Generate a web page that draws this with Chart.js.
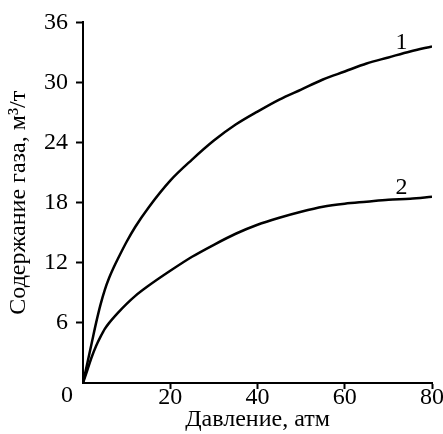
<!DOCTYPE html>
<html>
<head>
<meta charset="utf-8">
<script src="https://cdn.jsdelivr.net/npm/chart.js@4/dist/chart.umd.min.js"></script>
<style>
  html, body { margin: 0; padding: 0; background: #fff; }
  #wrap { width: 443px; height: 434px; }
</style>
</head>
<body>
<div id="wrap"><canvas id="gasChart" width="443" height="434"></canvas></div>
<script>
// Давление, атм
const pressure1 = [0, 1, 2, 3, 4, 5, 6, 7, 8, 10, 12, 15, 20, 25, 30, 35, 40, 45, 50, 55, 60, 65, 70, 75, 80];
// Кривая 1, м3/т
const gas1 = [0, 2.0, 4.0, 6.0, 7.8, 9.3, 10.5, 11.5, 12.4, 14.1, 15.6, 17.5, 20.2, 22.3, 24.2, 25.8, 27.1, 28.3, 29.3, 30.3, 31.1, 31.9, 32.5, 33.1, 33.6];

const pressure2 = [0, 1, 2, 3, 4, 5, 6, 8, 10, 12, 15, 20, 25, 30, 35, 40, 45, 50, 55, 60, 65, 70, 75, 80];
// Кривая 2, м3/т
const gas2 = [0, 1.3, 2.6, 3.7, 4.6, 5.4, 6.0, 7.0, 7.9, 8.7, 9.7, 11.2, 12.6, 13.8, 14.9, 15.8, 16.5, 17.1, 17.6, 17.9, 18.1, 18.3, 18.4, 18.6];

const xTicks = [0, 20, 40, 60, 80];
const yTicks = [0, 6, 12, 18, 24, 30, 36];

// номера кривых (в координатах данных)
const curveNames = ['1', '2'];
const curveNameX = [73, 73];
const curveNameY = [34.0, 19.5];

const FONT = "'Liberation Serif', 'Times New Roman', serif";
const FSIZE = 24;

function toPoints(xs, ys) {
    return xs.map((x, i) => ({ x: x, y: ys[i] }));
}

// подписи "1", "2" и общий ноль в начале координат
const extraText = {
    id: 'extraText',
    afterDraw(chart) {
        const ctx = chart.ctx;
        const xs = chart.scales.x, ys = chart.scales.y;
        ctx.save();
        ctx.fillStyle = '#000';
        ctx.font = FSIZE + 'px ' + FONT;
        ctx.textAlign = 'center';
        ctx.textBaseline = 'middle';
        curveNames.forEach((name, i) => {
            ctx.fillText(name, xs.getPixelForValue(curveNameX[i]), ys.getPixelForValue(curveNameY[i]));
        });
        ctx.fillText('0', xs.getPixelForValue(0) - 16, ys.getPixelForValue(0) + 13);
        ctx.restore();
    }
};

const noZeroTick = c => (c.tick && c.tick.value === 0) ? 'rgba(0,0,0,0)' : '#000';

new Chart(document.getElementById('gasChart').getContext('2d'), {
    type: 'line',
    data: {
        datasets: [{
            label: '1',
            data: toPoints(pressure1, gas1),
            borderColor: '#000',
            borderWidth: 2.5,
            pointRadius: 0,
            cubicInterpolationMode: 'monotone'
        }, {
            label: '2',
            data: toPoints(pressure2, gas2),
            borderColor: '#000',
            borderWidth: 2.5,
            pointRadius: 0,
            cubicInterpolationMode: 'monotone'
        }]
    },
    options: {
        responsive: false,
        animation: false,
        events: [],
        layout: { padding: { top: 19, right: 11, left: 0, bottom: 0 } },
        plugins: { legend: { display: false }, tooltip: { enabled: false } },
        scales: {
            x: {
                type: 'linear',
                min: 0, max: 80,
                afterBuildTicks: s => { s.ticks = xTicks.map(v => ({ value: v })); },
                afterFit: s => { s.height = 51; },
                border: { display: true, color: '#000', width: 2 },
                grid: { drawOnChartArea: false, drawTicks: true, tickLength: 6, tickWidth: 2, tickColor: noZeroTick },
                ticks: {
                    color: '#000', padding: -6, maxRotation: 0,
                    font: { family: FONT, size: FSIZE },
                    callback: v => v === 0 ? '' : v
                },
                title: {
                    display: true, text: 'Давление, атм', color: '#000',
                    font: { family: FONT, size: FSIZE }, padding: { top: 0, bottom: 0 }
                }
            },
            y: {
                type: 'linear',
                min: 0, max: 36,
                afterBuildTicks: s => { s.ticks = yTicks.map(v => ({ value: v })); },
                afterFit: s => { s.width = 83; },
                border: { display: true, color: '#000', width: 2 },
                grid: { drawOnChartArea: false, drawTicks: true, tickLength: 7, tickWidth: 2, tickColor: noZeroTick },
                ticks: {
                    color: '#000', padding: 8,
                    font: { family: FONT, size: FSIZE },
                    callback: v => v === 0 ? '' : v
                },
                title: {
                    display: true, text: 'Содержание газа, м³/т', color: '#000',
                    font: { family: FONT, size: FSIZE }, padding: { top: 4, bottom: 0 }
                }
            }
        }
    },
    plugins: [extraText]
});
</script>
</body>
</html>
